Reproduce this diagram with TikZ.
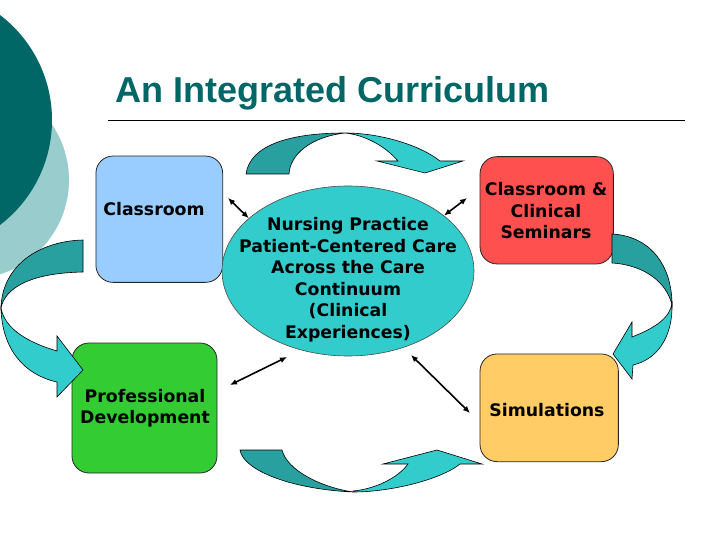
\documentclass[tikz,border=0pt]{standalone}
\usepackage{fontspec}
\setmainfont{DejaVu Sans}
\newfontfamily\titlefont{Liberation Sans}
\usetikzlibrary{arrows.meta, calc, positioning, shapes.geometric}

\definecolor{darkteal}{RGB}{0,102,102}
\definecolor{paleteal}{RGB}{153,204,204}
\definecolor{arrowdark}{RGB}{41,160,160}
\definecolor{arrowlight}{RGB}{51,204,204}
\definecolor{classblue}{RGB}{153,204,255}
\definecolor{profgreen}{RGB}{51,204,51}
\definecolor{seminred}{RGB}{255,80,80}
\definecolor{simyellow}{RGB}{255,204,102}

\begin{document}
\begin{tikzpicture}[x=1pt, y=-1pt,
  box/.style={draw=black!85, line width=0.8pt, rounded corners=17pt, inner sep=0pt},
  boxtext/.style={font=\bfseries\fontsize{17.3}{21.5}\selectfont, align=center, text=black, inner sep=0pt},
  link/.style={line width=1.6pt, {Latex[length=7pt,width=6pt]}-{Latex[length=7pt,width=6pt]}},
  back/.style={fill=arrowdark, draw=black, line width=0.6pt},
  front/.style={fill=arrowlight, draw=black, line width=0.6pt}]

\useasboundingbox (0,0) rectangle (720,540);
\clip (0,0) rectangle (720,540);

% Background circles
\fill[paleteal] (-30,180) circle[radius=99pt];
\fill[darkteal] (-80,120) circle[radius=132pt];

% Title
\node[anchor=base west, inner sep=0pt, text=darkteal,
  font=\titlefont\bfseries\fontsize{36}{40}\selectfont] (title) at (115,103) {An Integrated Curriculum};
\draw[line width=0.8pt] (108,120) -- (685,120);

% Boxes and the ellipse
\node[box, fill=classblue, minimum width=126.7pt, minimum height=126.3pt] (classroom) at (159.3,219.2) {};
\node[boxtext] (classtxt) at (154,209) {Classroom};

\node[box, fill=profgreen, minimum width=145pt, minimum height=130pt] (profdev) at (144.5,408) {};
\node[boxtext] (proftxt) at (145,408) {Professional\\Development};

\node[box, fill=seminred, minimum width=133.3pt, minimum height=107.3pt] (seminars) at (546.7,210.3) {};
\node[boxtext] (semtxt) at (546,211) {Classroom \&\\Clinical\\Seminars};

\node[box, fill=simyellow, minimum width=138.3pt, minimum height=107.7pt] (simul) at (549.2,407.8) {};
\node[boxtext] (simtxt) at (547,410) {Simulations};

\node[ellipse, draw=black!70, line width=0.6pt, fill=arrowlight, inner sep=0pt,
  minimum width=252pt, minimum height=170pt] (nursing) at (348,271) {};
\node[boxtext] (nurstxt) at (348,279.7) {Nursing Practice\\Patient-Centered Care\\Across the Care\\Continuum\\(Clinical\\Experiences)};

% Double arrows
\coordinate (tl) at (228,198);
\coordinate (tr) at (467,198);
\coordinate (bl) at (230,385);
\coordinate (blend) at (287,357);
\coordinate (br) at (470,413);
\coordinate (brend) at (411,355);
\draw[link] (tl) -- (nursing.152);
\draw[link] (nursing.30) -- (tr);
\draw[link] (bl) -- (blend);
\draw[link] (brend) -- (br);

% Top curved arrow
\draw[back] (246,174) .. controls (250,145) and (290,133) .. (345,133)
  .. controls (310,137) and (290,155) .. (289,174) -- cycle;
\draw[front] (345,133) .. controls (380,133) and (420,145) .. (440,161)
  -- (463,161) -- (425,173) -- (377,161) -- (398,161)
  .. controls (385,146) and (365,135) .. (345,133) -- cycle;

% Right curved arrow
\draw[back] (612,234) .. controls (650,236) and (672,265) .. (672,305)
  .. controls (667,283) and (645,265) .. (612,263) -- cycle;
\draw[front] (672,303) .. controls (673,340) and (655,360) .. (633,365)
  -- (632,379) -- (613,354) -- (632,322) -- (632,337)
  .. controls (655,328) and (670,318) .. (672,303) -- cycle;

% Bottom curved arrow
\draw[back] (240,450) .. controls (243,470) and (290,489) .. (353,492)
  .. controls (320,487) and (287,470) .. (282,450) -- cycle;
\draw[front] (353,492) .. controls (390,492) and (440,480) .. (460,464)
  -- (482,464) -- (437,450) -- (383,464) -- (408,464)
  .. controls (398,478) and (375,489) .. (353,491) -- cycle;

% Left curved arrow
\draw[back] (83,240) .. controls (40,241) and (2,265) .. (1,308)
  .. controls (5,288) and (30,273) .. (83,272) -- cycle;
\draw[front] (1,308) .. controls (2,350) and (25,375) .. (57,382)
  -- (57,397) -- (83,370) -- (57,336) -- (57,351)
  .. controls (30,343) and (5,330) .. (1,308) -- cycle;

\end{tikzpicture}
\end{document}
